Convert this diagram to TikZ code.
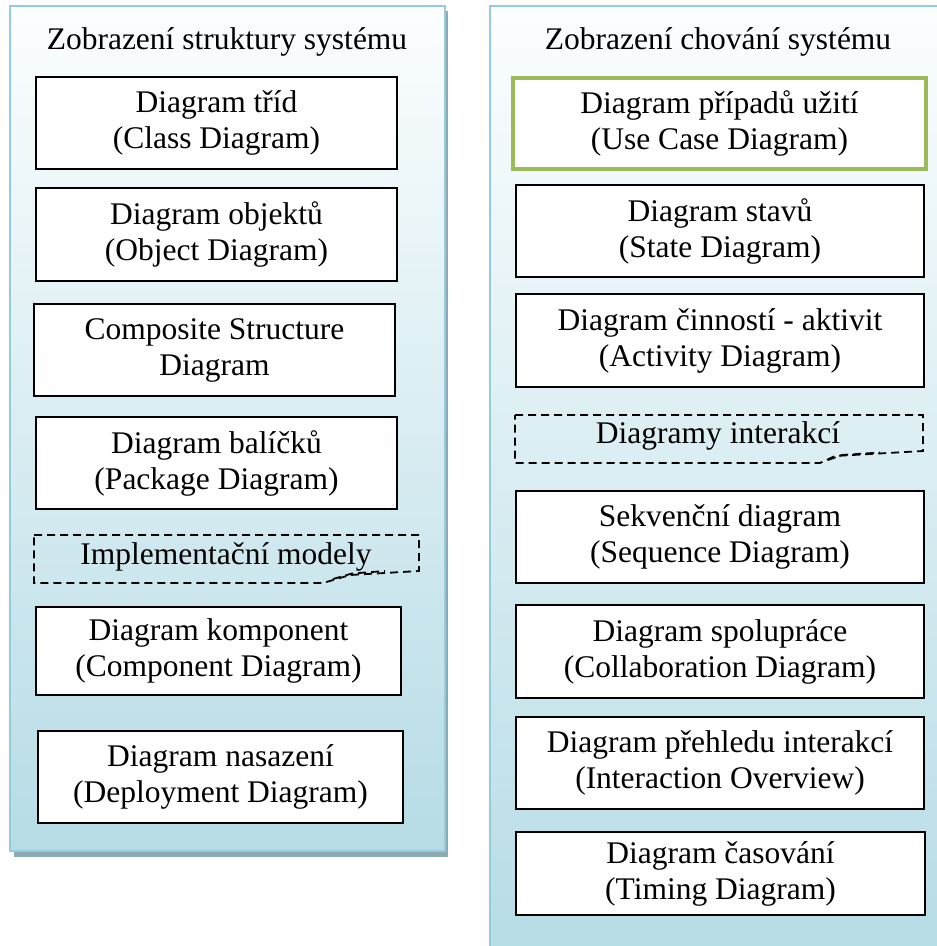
\documentclass[tikz,border=0pt]{standalone}
\usepackage{fontspec}
\setmainfont{Liberation Serif}
\definecolor{panelline}{HTML}{93CDDD}
\definecolor{paneltop}{HTML}{FCFEFE}
\definecolor{panelbot}{HTML}{B6DCE6}
\definecolor{panelshadow}{HTML}{8DA9B3}
\definecolor{usecase}{HTML}{9BBB59}
\tikzset{
  labelfont/.style={font=\fontsize{31.5}{36}\selectfont},
  diag/.style={draw=black, line width=2pt, fill=white, inner sep=0pt,
    align=center, labelfont},
  group/.style={draw=black, line width=1.8pt, dash pattern=on 8pt off 5pt},
  grouplabel/.style={inner sep=0pt, labelfont},
  paneltitle/.style={inner sep=0pt, labelfont},
}
\begin{document}
\begin{tikzpicture}[x=1pt,y=-1pt]
\useasboundingbox (0,0) rectangle (937,946);

% structure panel with its drop shadow
\fill[panelshadow] (14,11) rectangle (448,857);
\shade[top color=paneltop, bottom color=panelbot] (10,6) rectangle (445,851);
\draw[panelline, line width=2.2pt] (10,6) rectangle (445,851);

% behaviour panel
\shade[top color=paneltop, bottom color=panelbot] (490,6) rectangle (950,960);
\draw[panelline, line width=2.2pt] (490,6) rectangle (950,960);

% panel titles
\node[paneltitle] (tstruct) at (227,42) {Zobrazení struktury systému};
\node[paneltitle] (tbehav) at (718,42) {Zobrazení chování systému};

% structure diagrams
\node[diag, minimum width=361pt, minimum height=92pt] (cls) at (216.5,123)
  {Diagram tříd\\(Class Diagram)};
\node[diag, minimum width=361pt, minimum height=93pt] (obj) at (216.5,234.5)
  {Diagram objektů\\(Object Diagram)};
\node[diag, minimum width=361pt, minimum height=92pt] (comp) at (214.5,350)
  {Composite Structure\\Diagram};
\node[diag, minimum width=361pt, minimum height=92pt] (pkg) at (216.5,463)
  {Diagram balíčků\\(Package Diagram)};

% implementation group
\draw[group] (34,535) -- (419,535) -- (419,571) -- (350,575) -- (323,583)
  -- (34,583) -- cycle;
\draw[group] (333,579) -- (352,573.5) -- (385,571);
\node[grouplabel] (impl) at (226,557) {Implementační modely};

\node[diag, minimum width=365pt, minimum height=88pt] (cmpnt) at (218.5,651)
  {Diagram komponent\\(Component Diagram)};
\node[diag, minimum width=365pt, minimum height=92pt] (depl) at (220.5,777)
  {Diagram nasazení\\(Deployment Diagram)};

% behaviour diagrams
\node[diag, draw=usecase, line width=3.2pt, minimum width=413pt, minimum height=91pt]
  (uc) at (719.5,123.5) {Diagram případů užití\\(Use Case Diagram)};
\node[diag, minimum width=408pt, minimum height=92pt] (st) at (720,231)
  {Diagram stavů\\(State Diagram)};
\node[diag, minimum width=408pt, minimum height=93pt] (act) at (720,340.5)
  {Diagram činností - aktivit\\(Activity Diagram)};

% interaction group
\draw[group] (515,415) -- (923,415) -- (923,451) -- (835,456) -- (820,463)
  -- (515,463) -- cycle;
\draw[group] (828,460) -- (842,455) -- (880,452.5);
\node[grouplabel] (inter) at (718,436) {Diagramy interakcí};

\node[diag, minimum width=408pt, minimum height=92pt] (seq) at (720,537)
  {Sekvenční diagram\\(Sequence Diagram)};
\node[diag, minimum width=408pt, minimum height=93pt] (coll) at (720,651.5)
  {Diagram spolupráce\\(Collaboration Diagram)};
\node[diag, minimum width=408pt, minimum height=92pt] (ovw) at (720,763)
  {Diagram přehledu interakcí\\(Interaction Overview)};
\node[diag, minimum width=409pt, minimum height=83pt] (tim) at (720.5,873.5)
  {Diagram časování\\(Timing Diagram)};
\end{tikzpicture}
\end{document}
